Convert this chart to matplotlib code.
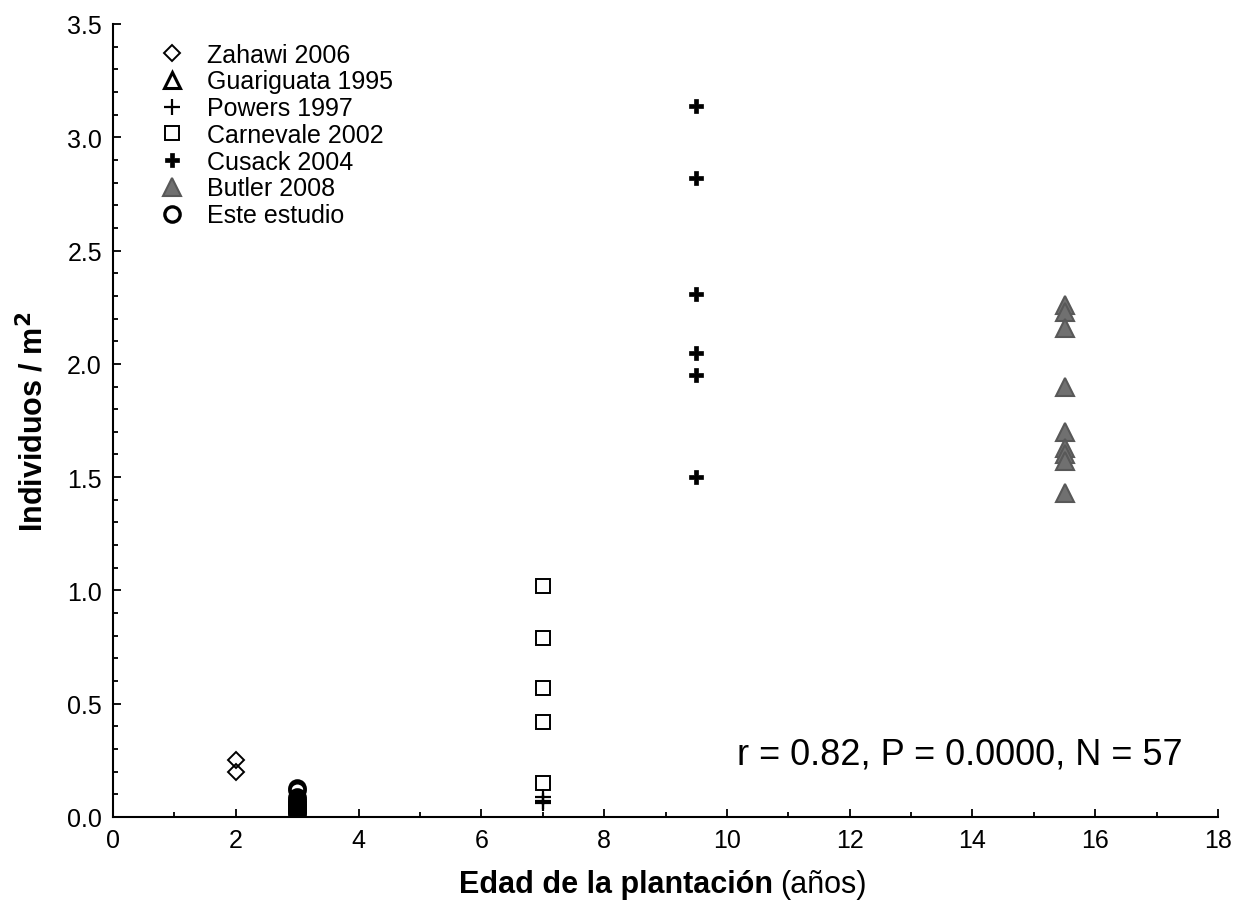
import matplotlib
matplotlib.use("Agg")
import matplotlib.pyplot as plt
from matplotlib.ticker import MultipleLocator, FormatStrFormatter

plt.rcParams['font.family'] = ['Liberation Sans', 'DejaVu Sans']

# ---- data ----
zahawi_x = [2, 2]
zahawi_y = [0.25, 0.20]

guariguata_x = []
guariguata_y = []

powers_x = [7, 7, 7]
powers_y = [0.09, 0.07, 0.06]

carnevale_x = [7, 7, 7, 7, 7]
carnevale_y = [1.02, 0.79, 0.57, 0.42, 0.15]

cusack_x = [9.5, 9.5, 9.5, 9.5, 9.5, 9.5]
cusack_y = [3.14, 2.82, 2.31, 2.05, 1.95, 1.50]

butler_x = [15.5] * 9
butler_y = [2.26, 2.23, 2.16, 1.90, 1.70, 1.63, 1.60, 1.57, 1.43]

este_x = [3] * 16
este_y = [0.13, 0.12, 0.09, 0.08, 0.07, 0.06, 0.06, 0.05, 0.05, 0.04,
          0.04, 0.03, 0.03, 0.02, 0.02, 0.01]

stats_text = "r = 0.82, P = 0.0000, N = 57"

W, H = 1237, 912
fig = plt.figure(figsize=(W / 100, H / 100), dpi=100)
ax = fig.add_axes([113 / W, 1 - 818 / H, (1218 - 113) / W, (818 - 25) / H])

ax.plot(zahawi_x, zahawi_y, linestyle='none', marker='D', markersize=8,
        mfc='none', mec='black', mew=1.4, label='Zahawi 2006')
ax.plot(guariguata_x, guariguata_y, linestyle='none', marker='^', markersize=11,
        mfc='none', mec='black', mew=2.2, label='Guariguata 1995')
ax.plot(powers_x, powers_y, linestyle='none', marker='+', markersize=11,
        mec='black', mew=1.6, label='Powers 1997')
ax.plot(carnevale_x, carnevale_y, linestyle='none', marker='s', markersize=10.5,
        mfc='none', mec='black', mew=1.4, label='Carnevale 2002')
ax.plot(cusack_x, cusack_y, linestyle='none', marker='P', markersize=10,
        mfc='black', mec='black', mew=0.5, label='Cusack 2004')
ax.plot(butler_x, butler_y, linestyle='none', marker='^', markersize=13,
        mfc='#707070', mec='#585858', mew=1.5, label='Butler 2008')
ax.plot(este_x, este_y, linestyle='none', marker='o', markersize=11,
        mfc='none', mec='black', mew=2.4, label='Este estudio')

ax.set_xlim(0, 18)
ax.set_ylim(0, 3.5)
ax.xaxis.set_major_locator(MultipleLocator(2))
ax.xaxis.set_minor_locator(MultipleLocator(1))
ax.yaxis.set_major_locator(MultipleLocator(0.5))
ax.yaxis.set_minor_locator(MultipleLocator(0.1))
ax.yaxis.set_major_formatter(FormatStrFormatter('%.1f'))
ax.tick_params(which='both', direction='in', width=1.3, labelsize=18, pad=8)
ax.tick_params(which='major', length=6)
ax.tick_params(which='minor', length=3.5)
for s in ['top', 'right']:
    ax.spines[s].set_visible(False)
for s in ['left', 'bottom']:
    ax.spines[s].set_linewidth(1.5)

ax.set_ylabel('Individuos / m$^{\\mathbf{2}}$', fontsize=22, fontweight='bold', labelpad=12)

fig.text(773 / W, 1 - 893 / H, 'Edad de la plantación', fontsize=22,
         fontweight='bold', ha='right', va='baseline')
fig.text(780 / W, 1 - 893 / H, '(años)', fontsize=22, ha='left', va='baseline')

ax.text(0.968, 0.067, stats_text, transform=ax.transAxes, fontsize=26,
        ha='right', va='baseline')

leg = ax.legend(loc='upper left', bbox_to_anchor=(0.0255, 1.0), frameon=False,
                fontsize=18, handlelength=1.0, handletextpad=0.9,
                labelspacing=0.11, borderpad=0.25, numpoints=1)

fig.savefig('out.png', dpi=100)
